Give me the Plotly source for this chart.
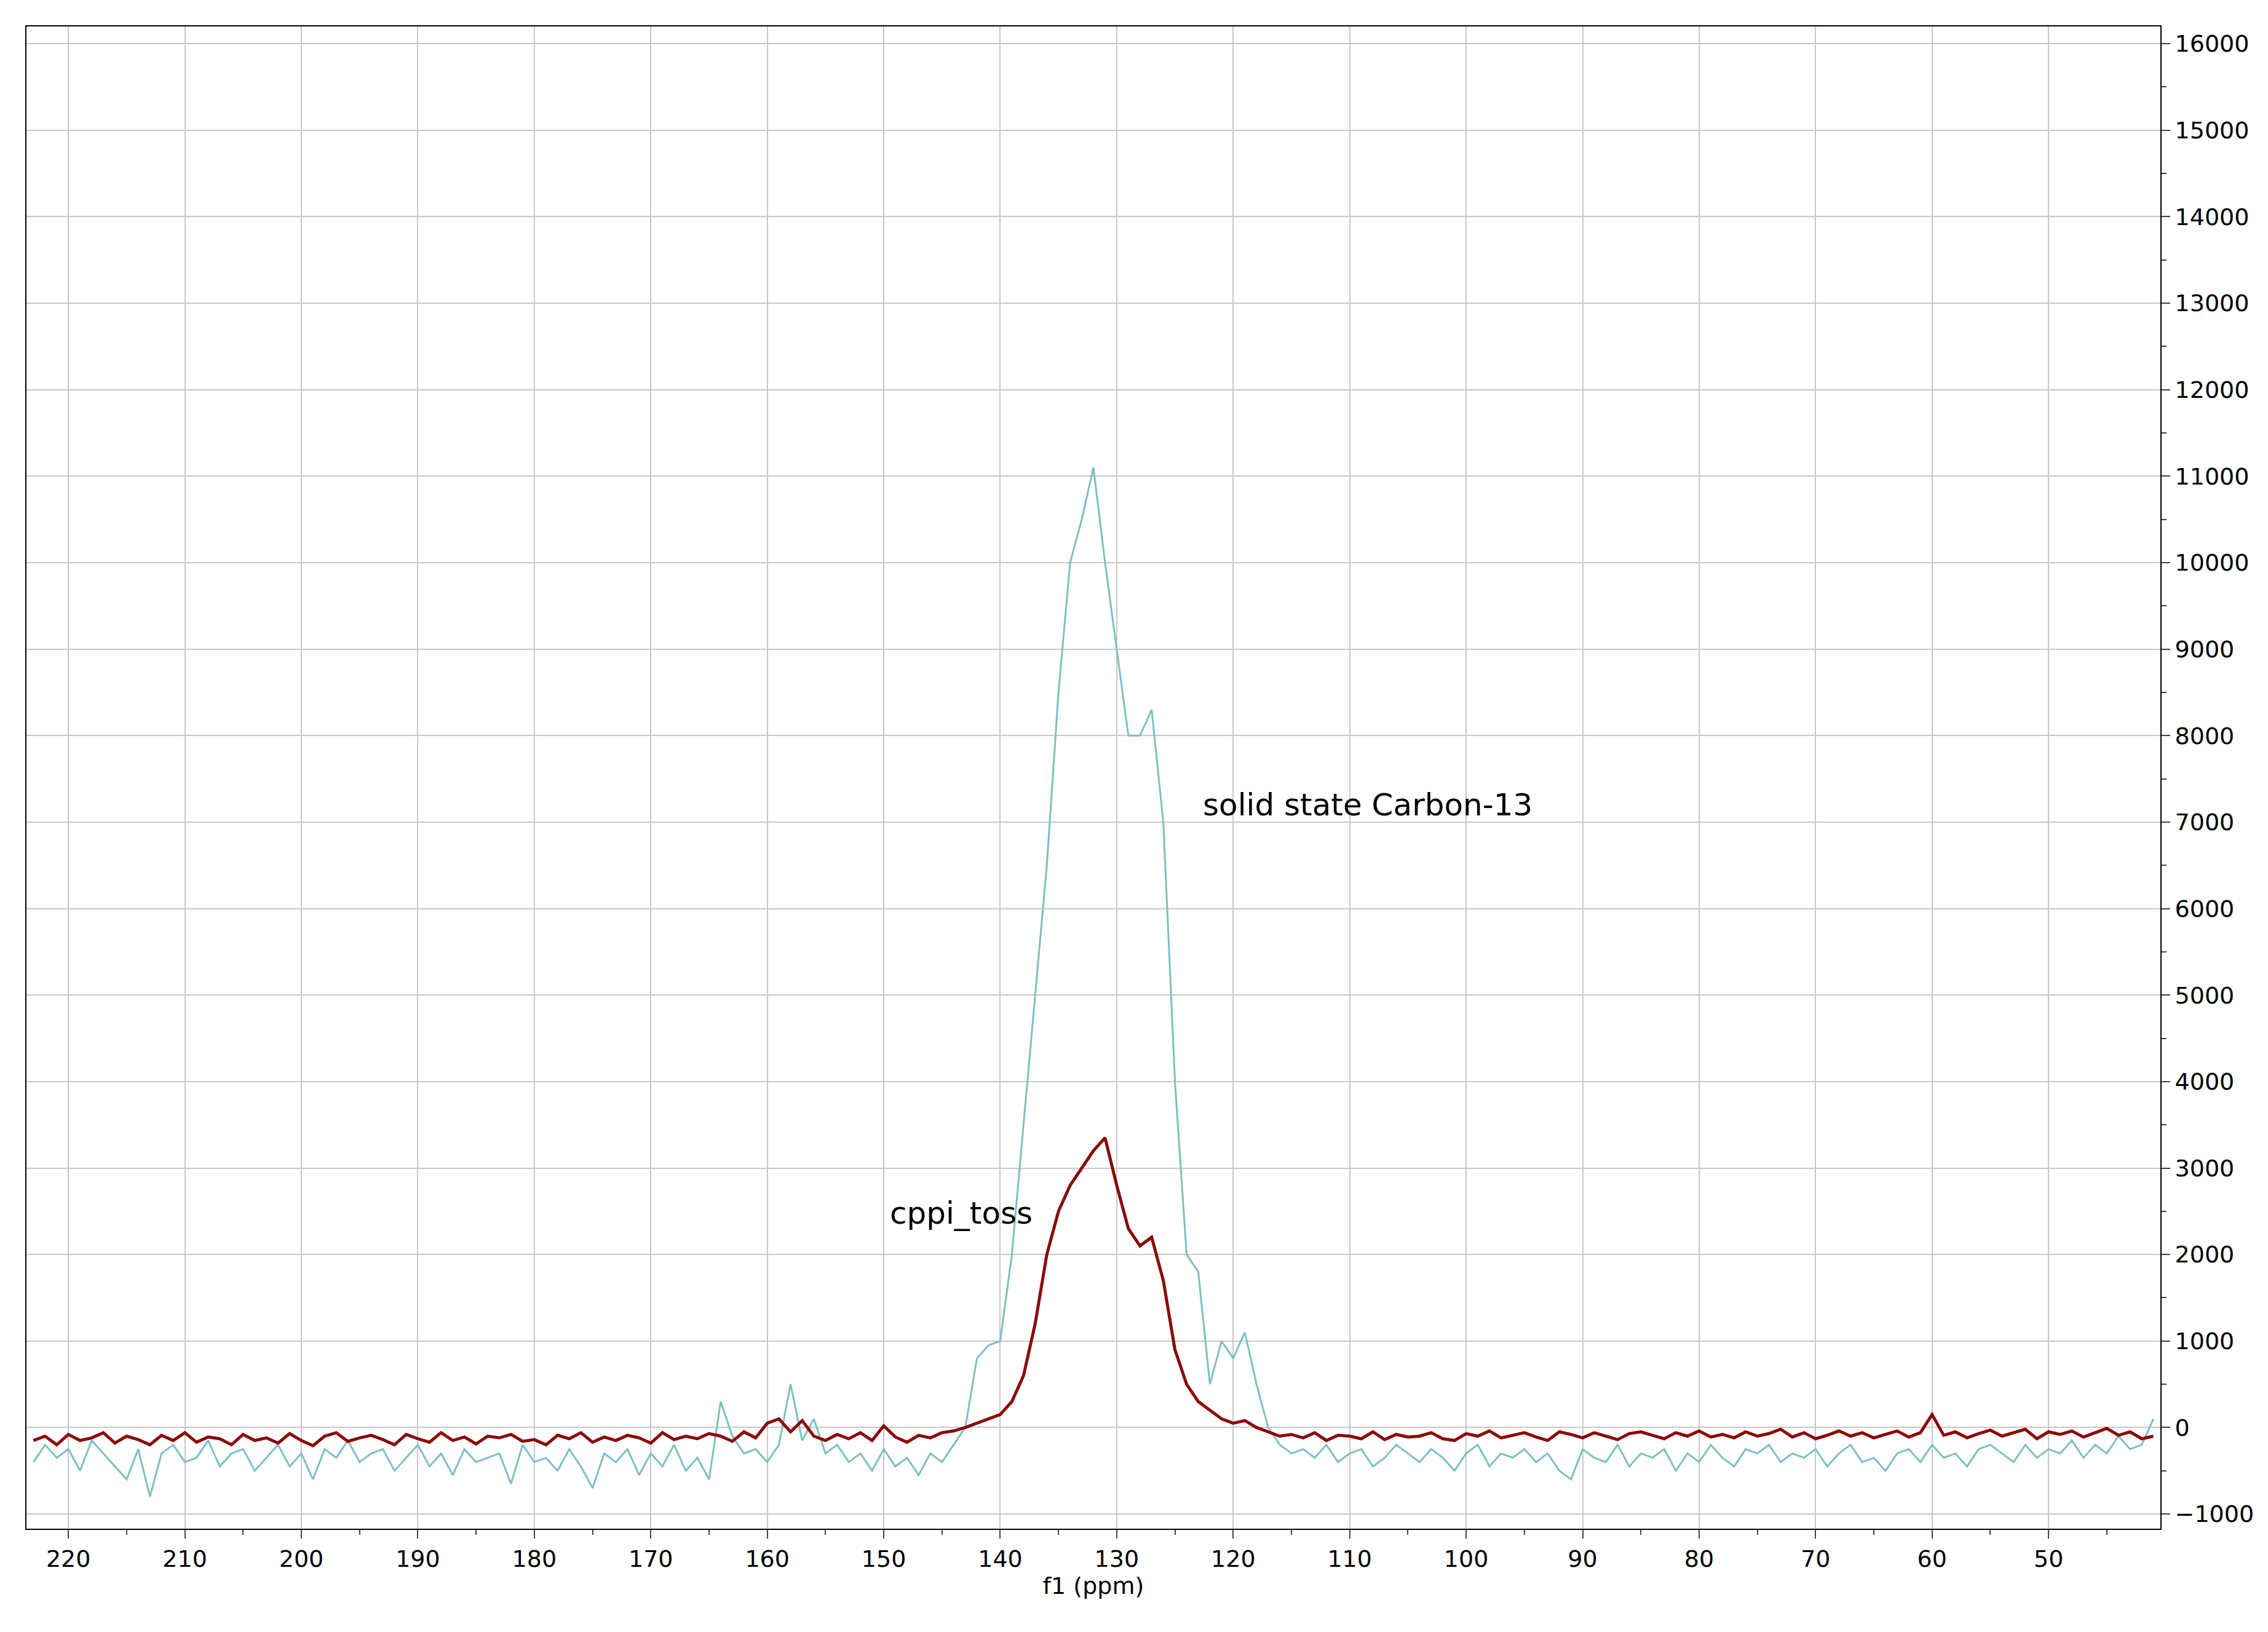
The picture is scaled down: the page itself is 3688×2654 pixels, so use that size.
import plotly.graph_objects as go

ppm = list(range(223, 40, -1))

cyan = [-400,-200,-350,-250,-500,-150,-300,-450,-600,-250,
-800,-300,-200,-400,-350,-150,-450,-300,-250,-500,
-350,-200,-450,-300,-600,-250,-350,-150,-400,-300,
-250,-500,-350,-200,-450,-300,-550,-250,-400,-350,
-300,-650,-200,-400,-350,-500,-250,-450,-700,-300,
-400,-250,-550,-300,-450,-200,-500,-350,-600,
300,-100,-300,-250,-400,-200,500,-150,100,-300,
-200,-400,-300,-500,-250,-450,-350,-550,-300,-400,
-200,0,800,950,1000,2000,3500,5000,6500,8500,
10000,10500,11100,10000,9000,8000,8000,8300,7000,4000,
2000,1800,500,1000,800,1100,500,0,-200,-300,
-250,-350,-200,-400,-300,-250,-450,-350,-200,-300,
-400,-250,-350,-500,-300,-200,-450,-300,-350,-250,
-400,-300,-500,-600,-250,-350,-400,-200,-450,-300,
-350,-250,-500,-300,-400,-200,-350,-450,-250,-300,
-200,-400,-300,-350,-250,-450,-300,-200,-400,-350,
-500,-300,-250,-400,-200,-350,-300,-450,-250,-200,
-300,-400,-200,-350,-250,-300,-150,-350,-200,-300,
-100,-250,-200,100]

red = [-150,-100,-200,-80,-150,-120,-60,-180,-100,-140,
-200,-90,-150,-60,-170,-110,-130,-200,-80,-150,
-120,-180,-70,-150,-210,-100,-60,-160,-120,-90,
-140,-200,-80,-130,-170,-60,-150,-110,-190,-100,
-120,-80,-160,-140,-200,-90,-130,-60,-170,-110,
-150,-90,-120,-180,-60,-140,-100,-130,-70,
-100,-160,-50,-120,50,100,-50,80,-100,-150,
-80,-130,-60,-150,20,-110,-170,-90,-120,-60,
-40,0,50,100,150,300,600,1200,2000,2500,
2800,3000,3200,3350,2800,2300,2100,2200,1700,900,
500,300,200,100,50,80,0,-50,-100,-80,
-120,-60,-150,-90,-100,-130,-50,-140,-80,-110,
-100,-60,-130,-150,-70,-100,-40,-120,-90,-60,
-110,-150,-50,-80,-120,-60,-100,-140,-70,-50,
-90,-130,-60,-100,-40,-110,-80,-120,-50,-100,
-70,-20,-110,-60,-130,-90,-40,-100,-60,-120,
-80,-40,-110,-60,150,-90,-50,-120,-70,-30,
-100,-60,-20,-130,-50,-80,-40,-110,-60,-10,
-90,-50,-130,-100]

fig = go.Figure()
fig.add_trace(go.Scatter(x=ppm, y=cyan, mode="lines", line=dict(color="#7fbfc2", width=3), name="solid state Carbon-13"))
fig.add_trace(go.Scatter(x=ppm, y=red, mode="lines", line=dict(color="#8b0a0a", width=5), name="cppi_toss"))

fig.add_annotation(x=122.7, y=7200, text="solid state Carbon-13", showarrow=False, xanchor="left", font=dict(size=50, color="black"))
fig.add_annotation(x=149.6, y=2480, text="cppi_toss", showarrow=False, xanchor="left", font=dict(size=50, color="black"))

fig.update_layout(
    width=3688, height=2654, showlegend=False,
    paper_bgcolor="white", plot_bgcolor="white",
    margin=dict(l=35, r=183, t=35, b=176),
    font=dict(family="DejaVu Sans", size=38, color="black"),
)
fig.update_xaxes(range=[223.6, 40.4], tickvals=list(range(220, 49, -10)),
                 showgrid=True, gridcolor="#c8c8c8", gridwidth=2,
                 showline=True, linecolor="black", linewidth=2, mirror=True,
                 ticks="outside", ticklen=14, tickwidth=2,
                 minor=dict(dtick=5, ticks="outside", ticklen=8, showgrid=False),
                 title=dict(text="f1 (ppm)", font=dict(size=38), standoff=5), zeroline=False)
fig.update_yaxes(range=[-1170, 16200], side="right", dtick=1000, tickformat="d",
                 showgrid=True, gridcolor="#c8c8c8", gridwidth=2,
                 showline=True, linecolor="black", linewidth=2, mirror=True,
                 ticks="outside", ticklen=14, tickwidth=2,
                 minor=dict(dtick=500, ticks="outside", ticklen=8, showgrid=False),
                 zeroline=False)
fig.write_html("out.html")
